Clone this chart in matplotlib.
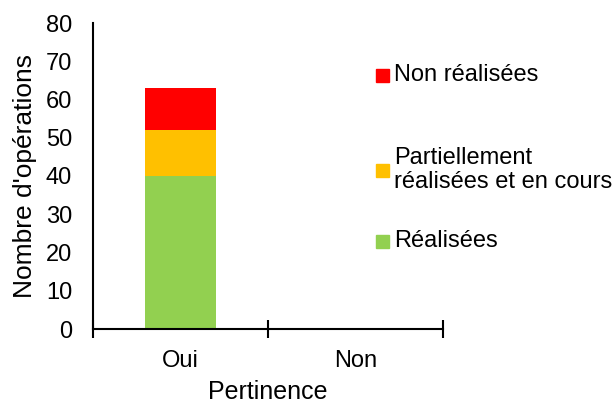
import numpy as np
import matplotlib.pyplot as plt
from matplotlib.patches import Rectangle

plt.rcParams['font.family'] = ['Liberation Sans', 'DejaVu Sans']

categories = ["Oui", "Non"]
realisees = [40, 0]
partielles = [12, 0]
non_realisees = [11, 0]

series_labels = ["Réalisées", "Partiellement\nréalisées et en cours", "Non réalisées"]
series_colors = ["#92D050", "#FFC000", "#FF0000"]

fig = plt.figure(figsize=(6.16, 4.05), dpi=100)
ax = fig.add_axes([93 / 616, 1 - 329 / 405, 350 / 616, 306 / 405])

x = np.arange(len(categories))
bottom = np.zeros(len(categories))
for vals, col in zip([realisees, partielles, non_realisees], series_colors):
    ax.bar(x, vals, width=0.41, bottom=bottom, color=col, zorder=2)
    bottom += np.array(vals)

ax.set_xlim(-0.5, 1.5)
ax.set_ylim(0, 80)
ax.set_yticks(range(0, 81, 10))
ax.tick_params(axis='y', length=0, labelsize=17, pad=15)

# category boundaries as crossing tick marks, labels in between
ax.set_xticks([-0.5, 0.5, 1.5])
ax.set_xticklabels([])
ax.tick_params(axis='x', which='major', direction='inout', length=13, width=1.5)
ax.set_xticks(x, minor=True)
ax.set_xticklabels(categories, minor=True)
ax.tick_params(axis='x', which='minor', length=0, labelsize=17, pad=15)

for side in ["top", "right"]:
    ax.spines[side].set_visible(False)
ax.spines["left"].set_linewidth(1.5)
ax.spines["bottom"].set_linewidth(1.5)

ax.set_xlabel("Pertinence", fontsize=18, labelpad=6)
ax.set_ylabel("Nombre d'opérations", fontsize=19, labelpad=6)

# legend placed by hand, Excel style
legend_y = [241, 170, 75]
for lab, col, yy in zip(series_labels, series_colors, legend_y):
    fig.patches.append(Rectangle((376 / 616, 1 - (yy + 7) / 405), 13 / 616, 13 / 405,
                                 transform=fig.transFigure, color=col))
    fig.text(394 / 616, 1 - yy / 405, lab, fontsize=17, va='center', ha='left',
             linespacing=1.1)

fig.savefig("out.png", dpi=100)
